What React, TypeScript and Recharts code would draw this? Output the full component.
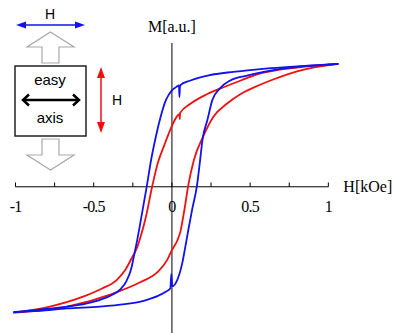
import { LineChart, Line, XAxis, YAxis, ReferenceLine } from "recharts";

// axis ticks (kOe)
const majorTicks = [-1, -0.5, 0, 0.5, 1];
const majorLabels = ["-1", "-0.5", "0", "0.5", "1"];
const minorTicks = [-0.75, -0.25, 0.25, 0.75];

// blue loop, descending field branch (listed with H increasing)
const blueDownH = [-1.013, -0.85, -0.67, -0.55, -0.46, -0.39, -0.33, -0.29, -0.26, -0.244, -0.22, -0.2, -0.16, -0.133, -0.105, -0.073, -0.042, -0.02, 0, 0.03, 0.045, 0.048, 0.052, 0.118, 0.227, 0.355, 0.5, 0.63, 0.8, 0.95, 1.064];
const blueDownM = [-1.02, -1.0, -0.975, -0.95, -0.92, -0.885, -0.835, -0.765, -0.665, -0.57, -0.42, -0.28, 0.01, 0.22, 0.395, 0.565, 0.695, 0.75, 0.785, 0.815, 0.825, 0.73, 0.825, 0.865, 0.905, 0.93, 0.95, 0.965, 0.98, 0.99, 1.0];

// blue loop, ascending field branch
const blueUpH = [-1.013, -0.85, -0.67, -0.46, -0.3, -0.2, -0.137, -0.093, -0.04, -0.01, -0.004, 0.002, 0.035, 0.067, 0.086, 0.105, 0.13, 0.16, 0.18, 0.195, 0.227, 0.258, 0.31, 0.373, 0.48, 0.63, 0.8, 1.064];
const blueUpM = [-1.02, -1.01, -0.99, -0.975, -0.955, -0.935, -0.91, -0.89, -0.855, -0.825, -0.71, -0.81, -0.755, -0.615, -0.485, -0.35, -0.18, 0.01, 0.215, 0.38, 0.545, 0.705, 0.805, 0.865, 0.905, 0.945, 0.975, 1.0];

// red loop, descending field branch
const redDownH = [-1.013, -0.78, -0.56, -0.45, -0.35, -0.3, -0.265, -0.22, -0.2, -0.17, -0.125, -0.09, -0.05, -0.02, 0, 0.048, 0.05, 0.052, 0.118, 0.227, 0.33, 0.44, 0.545, 0.63, 0.8, 1.064];
const redDownM = [-1.025, -0.975, -0.89, -0.83, -0.755, -0.68, -0.6, -0.485, -0.405, -0.265, 0.01, 0.195, 0.335, 0.435, 0.495, 0.59, 0.55, 0.6, 0.675, 0.755, 0.81, 0.865, 0.915, 0.94, 0.97, 1.0];

// red loop, ascending field branch
const redUpH = [-1.013, -0.67, -0.39, -0.2, -0.093, -0.03, 0, 0.035, 0.054, 0.08, 0.105, 0.14, 0.2, 0.265, 0.355, 0.44, 0.545, 0.63, 0.8, 1.064];
const redUpM = [-1.025, -0.975, -0.875, -0.775, -0.695, -0.595, -0.515, -0.435, -0.365, -0.185, 0.015, 0.215, 0.41, 0.57, 0.68, 0.755, 0.82, 0.865, 0.94, 1.0];

const zip = (hs: number[], ms: number[]) => hs.map((h, i) => ({ h, m: ms[i] }));

const BLUE = "#1212ee";
const RED = "#f01010";
const serif = "'Liberation Serif', 'Times New Roman', serif";
const sans = "'Liberation Sans', Arial, sans-serif";

// little sketch of the field geometry on the left
function FieldSketch() {
  const gray = "#a9a9a9";
  return (
    <svg width={394} height={333} style={{ position: "absolute", left: 0, top: 0, pointerEvents: "none" }}>
      {/* in-plane field */}
      <text x={50} y={19} textAnchor="middle" fontFamily={sans} fontSize={14} fill="#000">H</text>
      <line x1={24} y1={25} x2={77} y2={25} stroke={BLUE} strokeWidth={1.5} />
      <polygon points="16,25 26,21.5 26,28.5" fill={BLUE} />
      <polygon points="85,25 75,21.5 75,28.5" fill={BLUE} />

      {/* hollow arrows */}
      <polygon points="50.5,32 74,47 59,47 59,63 42,63 42,47 27,47" fill="#fff" stroke={gray} strokeWidth={1.2} />
      <polygon points="42,139 59,139 59,155 74,155 50.5,170 27,155 42,155" fill="#fff" stroke={gray} strokeWidth={1.2} />

      {/* easy axis box */}
      <rect x={15} y={66} width={71} height={70} fill="none" stroke="#222" strokeWidth={1.5} />
      <text x={50} y={85} textAnchor="middle" fontFamily={sans} fontSize={15} fill="#000">easy</text>
      <text x={50} y={123} textAnchor="middle" fontFamily={sans} fontSize={15} fill="#000">axis</text>
      <line x1={24} y1={100} x2={78} y2={100} stroke="#000" strokeWidth={2.5} />
      <polyline points="29,94.5 23,100 29,105.5" fill="none" stroke="#000" strokeWidth={2.5} />
      <polyline points="73,94.5 79,100 73,105.5" fill="none" stroke="#000" strokeWidth={2.5} />

      {/* perpendicular field */}
      <line x1={101} y1={75} x2={101} y2={125} stroke={RED} strokeWidth={1.5} />
      <polygon points="101,67 97,78 105,78" fill={RED} />
      <polygon points="101,133 97,122 105,122" fill={RED} />
      <text x={117} y={105} textAnchor="middle" fontFamily={sans} fontSize={14} fill="#000">H</text>
    </svg>
  );
}

export default function App() {
  return (
    <div style={{ position: "absolute", left: 0, top: 0, width: 394, height: 333, background: "#fff" }}>
      <LineChart width={394} height={333} margin={{ top: 43, right: 50, bottom: 0, left: 3 }}>
        <XAxis type="number" dataKey="h" domain={[-1.08, 1.1]} allowDataOverflow hide />
        <YAxis type="number" dataKey="m" domain={[-1.19, 1.17]} allowDataOverflow hide />

        {/* vertical M axis */}
        <ReferenceLine
          x={0}
          stroke="#000"
          strokeWidth={1}
          label={{ value: "M[a.u.]", position: "top", offset: 11, fill: "#000", fontSize: 16, fontFamily: serif }}
        />
        {/* horizontal H axis */}
        <ReferenceLine
          segment={[{ x: -1, y: 0 }, { x: 1, y: 0 }]}
          stroke="#000"
          strokeWidth={1}
          label={{ value: "H[kOe]", position: "right", offset: 15, fill: "#000", fontSize: 16, fontFamily: serif }}
        />
        {minorTicks.map((v) => (
          <ReferenceLine key={"mn" + v} segment={[{ x: v, y: 0 }, { x: v, y: 0.035 }]} stroke="#000" strokeWidth={1} />
        ))}
        {majorTicks.map((v, i) => (
          <ReferenceLine
            key={"mj" + v}
            segment={[{ x: v, y: 0 }, { x: v, y: 0.035 }]}
            stroke="#000"
            strokeWidth={1}
            label={{ value: majorLabels[i], position: "bottom", offset: 14, fill: "#000", fontSize: 16, fontFamily: serif, letterSpacing: -0.8 }}
          />
        ))}

        <Line data={zip(redDownH, redDownM)} dataKey="m" type="monotone" stroke={RED} strokeWidth={1.8} dot={false} activeDot={false} isAnimationActive={false} />
        <Line data={zip(redUpH, redUpM)} dataKey="m" type="monotone" stroke={RED} strokeWidth={1.8} dot={false} activeDot={false} isAnimationActive={false} />
        <Line data={zip(blueDownH, blueDownM)} dataKey="m" type="monotone" stroke={BLUE} strokeWidth={1.8} dot={false} activeDot={false} isAnimationActive={false} />
        <Line data={zip(blueUpH, blueUpM)} dataKey="m" type="monotone" stroke={BLUE} strokeWidth={1.8} dot={false} activeDot={false} isAnimationActive={false} />
      </LineChart>
      <FieldSketch />
    </div>
  );
}
